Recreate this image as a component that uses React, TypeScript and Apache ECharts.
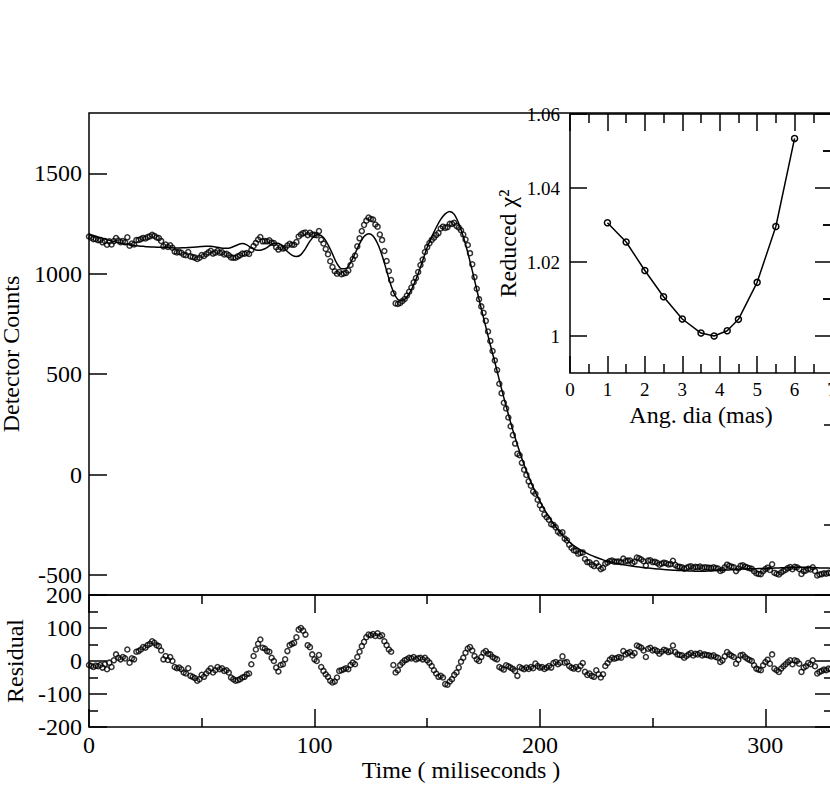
import React, { useEffect, useRef } from "react";
import * as echarts from "echarts";

// Observed detector counts, one sample per millisecond starting at t = 0
const observedCounts = [
  1185, 1179, 1172, 1173, 1167, 1168, 1156, 1163, 1144, 1161,
  1145, 1162, 1177, 1165, 1157, 1162, 1156, 1181, 1139, 1150,
  1145, 1167, 1168, 1172, 1178, 1175, 1182, 1186, 1193, 1188,
  1180, 1177, 1163, 1136, 1145, 1133, 1141, 1129, 1110, 1106,
  1108, 1104, 1094, 1092, 1108, 1086, 1083, 1080, 1073, 1079,
  1093, 1088, 1098, 1106, 1114, 1100, 1105, 1113, 1104, 1106,
  1096, 1099, 1092, 1081, 1079, 1079, 1086, 1092, 1100, 1099,
  1103, 1098, 1118, 1138, 1153, 1170, 1182, 1161, 1162, 1161,
  1166, 1155, 1152, 1132, 1120, 1132, 1125, 1128, 1140, 1149,
  1144, 1144, 1157, 1185, 1195, 1202, 1205, 1192, 1204, 1195,
  1193, 1191, 1212, 1169, 1150, 1123, 1097, 1062, 1033, 1012,
  1000, 1008, 997, 1001, 1004, 1016, 1043, 1073, 1090, 1136,
  1176, 1212, 1243, 1264, 1279, 1272, 1270, 1245, 1234, 1195,
  1168, 1113, 1063, 1013, 968, 902, 852, 849, 854, 864,
  874, 891, 910, 931, 957, 978, 1008, 1043, 1070, 1108,
  1132, 1152, 1168, 1179, 1192, 1202, 1225, 1234, 1228, 1232,
  1248, 1248, 1253, 1238, 1230, 1216, 1195, 1170, 1143, 1102,
  1047, 983, 925, 873, 837, 805, 765, 712, 665, 615,
  568, 520, 452, 405, 357, 329, 284, 240, 196, 154,
  103, 96, 58, 24, -2, -34, -56, -85, -96, -126,
  -153, -172, -199, -213, -225, -248, -251, -263, -285, -294,
  -288, -319, -328, -350, -365, -377, -380, -394, -391, -388,
  -421, -436, -437, -449, -456, -441, -457, -471, -465, -444,
  -438, -431, -428, -434, -434, -433, -437, -419, -431, -429,
  -428, -440, -434, -413, -417, -423, -432, -453, -429, -427,
  -436, -435, -440, -449, -444, -439, -442, -448, -446, -430,
  -450, -458, -460, -462, -469, -465, -460, -457, -464, -460,
  -462, -458, -465, -462, -463, -464, -466, -462, -466, -468,
  -480, -475, -462, -449, -455, -459, -462, -481, -468, -455,
  -452, -459, -463, -467, -469, -482, -492, -495, -496, -481,
  -471, -464, -475, -447, -489, -494, -498, -488, -480, -474,
  -466, -461, -472, -460, -462, -470, -495, -482, -478, -469,
  -473, -462, -480, -503, -498, -496, -492, -494, -489, -492,
];

// Fitted model curve, one value every 2 ms starting at t = 0
const fitCounts = [
  1197, 1190, 1183, 1176, 1169, 1163, 1157, 1152, 1148, 1144,
  1140, 1138, 1136, 1134, 1133, 1132, 1131, 1130, 1129, 1128,
  1128, 1129, 1130, 1131, 1133, 1135, 1136, 1136, 1133, 1129,
  1126, 1127, 1134, 1144, 1150, 1143, 1128, 1118, 1117, 1124,
  1138, 1152, 1152, 1135, 1110, 1092, 1085, 1095, 1125, 1162,
  1188, 1194, 1180, 1145, 1098, 1050, 1025, 1026, 1055, 1100,
  1148, 1185, 1199, 1188, 1150, 1090, 1015, 940, 887, 866,
  872, 900, 945, 1000, 1065, 1130, 1183, 1230, 1270, 1298,
  1310, 1295, 1250, 1185, 1105, 1015, 920, 825, 735, 645,
  560, 470, 383, 300, 220, 148, 80, 18, -38, -88,
  -133, -175, -210, -245, -275, -302, -325, -345, -362, -376,
  -388, -399, -408, -417, -425, -432, -438, -443, -447, -451,
  -455, -458, -461, -464, -466, -468, -470, -472, -474, -476,
  -477, -478, -479, -480, -481, -482, -482, -481, -480, -478,
  -477, -476, -475, -474, -472, -471, -470, -469, -469, -468,
  -468, -467, -466, -465, -464, -463, -462, -462, -462, -462,
  -463, -464, -465, -466, -466, -467,
];

// Residuals (observed - fit), one per millisecond starting at t = 0
const residualCounts = [
  -12, -15, -18, -14, -16, -12, -20, -10, -25, -5,
  -18, 2, 20, 10, 5, 12, 8, 35, -5, 8,
  5, 28, 30, 35, 42, 40, 48, 52, 60, 55,
  48, 45, 32, 5, 15, 3, 12, 0, -18, -22,
  -20, -25, -35, -38, -22, -45, -48, -52, -60, -55,
  -42, -48, -38, -30, -22, -35, -28, -18, -25, -22,
  -30, -28, -35, -50, -55, -60, -58, -55, -50, -48,
  -40, -38, -10, 15, 35, 52, 65, 40, 38, 30,
  28, 10, 0, -20, -32, -12, -10, 5, 30, 48,
  52, 55, 72, 95, 100, 92, 80, 48, 42, 20,
  5, 0, 18, -18, -30, -40, -48, -60, -65, -62,
  -50, -30, -28, -25, -22, -25, -12, -5, -10, 12,
  28, 45, 58, 72, 80, 78, 82, 76, 84, 75,
  78, 60, 48, 35, 28, -12, -35, -28, -12, -5,
  2, 5, 10, 8, 12, 5, 8, 10, 5, 10,
  2, -5, -15, -28, -38, -48, -45, -50, -70, -72,
  -62, -55, -42, -35, -20, -2, 10, 25, 38, 42,
  32, 15, 5, 0, 12, 25, 30, 22, 20, 12,
  8, 5, -18, -22, -26, -13, -16, -20, -24, -30,
  -45, -18, -22, -25, -20, -24, -18, -22, -8, -15,
  -20, -18, -24, -20, -15, -20, -6, -3, -10, -5,
  14, -5, -3, -15, -20, -23, -18, -25, -15, -6,
  -33, -42, -38, -45, -48, -28, -40, -50, -40, -15,
  -6, 4, 10, 7, 9, 12, 10, 30, 20, 24,
  27, 17, 24, 47, 44, 40, 32, 12, 37, 40,
  32, 34, 30, 22, 28, 34, 32, 27, 30, 47,
  27, 20, 18, 17, 10, 15, 20, 24, 17, 22,
  20, 24, 17, 20, 18, 17, 14, 17, 12, 10,
  -3, 2, 14, 27, 20, 16, 12, -8, 4, 17,
  19, 12, 7, 3, 0, -13, -23, -26, -28, -13,
  -3, 4, -8, 20, -23, -28, -33, -23, -16, -10,
  -3, 2, -10, 2, 0, -8, -33, -20, -16, -6,
  -10, 2, -16, -38, -33, -30, -26, -28, -23, -25,
];

// Inset: reduced chi-square vs angular diameter
const angDiaMas = [1, 1.5, 2, 2.5, 3, 3.5, 3.85, 4.2, 4.5, 5, 5.5, 6];
const reducedChi2 = [1.0306, 1.0254, 1.0177, 1.0106, 1.0046, 1.0008, 1.0, 1.0014, 1.0045, 1.0145, 1.0296, 1.0534];

// Tick values
const countTicks = [-500, 0, 500, 1000, 1500];
const countMinorTicks = [-250, 250, 750, 1250, 1750];
const timeTicks = [0, 100, 200, 300];
const chiTicks = [1, 1.02, 1.04, 1.06];
const chiMinorTicks = [1.01, 1.03, 1.05];

const SAMPLE_MS = 1;
const FIT_STEP_MS = 2;

const FONT = "Liberation Serif";

export default function App() {
  const ref = useRef<HTMLDivElement>(null);

  useEffect(() => {
    if (!ref.current) return;
    const chart = echarts.init(ref.current, null, { renderer: "svg" });

    const tickLine = { color: "#000", width: 1.5 };
    const plain = (v: number) => String(v);
    const bigLabel = { color: "#000", fontFamily: FONT, fontSize: 24, formatter: plain };
    const smallLabel = { color: "#000", fontFamily: FONT, fontSize: 19 };
    const nameStyle = { color: "#000", fontFamily: FONT, fontSize: 24 };
    const openCircle = {
      color: "rgba(255,255,255,0)",
      borderColor: "#000",
      borderWidth: 1.5,
    };

    const observedData = observedCounts.map((v, i) => [i * SAMPLE_MS, v]);
    const fitData = fitCounts.map((v, i) => [i * FIT_STEP_MS, v]);
    const residualData = residualCounts.map((v, i) => [i * SAMPLE_MS, v]);
    const chiData = angDiaMas.map((a, i) => [a, reducedChi2[i]]);

    const hidden = { show: false };
    const noLine = { show: false, onZero: false };

    const gridBase = {
      show: true, borderColor: "#000", borderWidth: 1.5,
      containLabel: false, outerBoundsMode: "none",
    };

    const option: any = {
      animation: false,
      backgroundColor: "#fff",
      textStyle: { fontFamily: FONT, color: "#000" },
      grid: [
        { ...gridBase, left: 89, top: 113, width: 744, height: 482, backgroundColor: "transparent" },
        { ...gridBase, left: 89, top: 595, width: 744, height: 132, backgroundColor: "transparent" },
        { ...gridBase, left: 570, top: 114, width: 262, height: 259, backgroundColor: "#fff", z: 5 },
      ],
      xAxis: [
        {
          gridIndex: 0, type: "value", min: 0, max: 330,
          axisLine: noLine, axisTick: hidden, axisLabel: hidden, splitLine: hidden,
        },
        {
          gridIndex: 1, type: "value", min: 0, max: 330, interval: 100,
          axisLine: noLine, splitLine: hidden,
          axisTick: { show: true, inside: true, length: 18, lineStyle: tickLine },
          minorTick: { show: true, splitNumber: 2, length: 9, lineStyle: tickLine },
          axisLabel: { ...bigLabel, margin: 6, customValues: timeTicks },
          name: "Time ( miliseconds )", nameLocation: "middle", nameGap: 31,
          nameTextStyle: nameStyle,
        },
        {
          gridIndex: 1, type: "value", position: "top", min: 0, max: 330, interval: 100,
          axisLine: noLine, splitLine: hidden, axisLabel: hidden,
          axisTick: { show: true, inside: true, length: 18, lineStyle: tickLine },
          minorTick: { show: true, splitNumber: 2, length: 9, lineStyle: tickLine },
        },
        {
          gridIndex: 2, type: "value", min: 0, max: 7, interval: 1, z: 6,
          axisLine: noLine, splitLine: hidden,
          axisTick: { show: true, inside: true, length: 17, lineStyle: tickLine },
          minorTick: { show: true, splitNumber: 2, length: 9, lineStyle: tickLine },
          axisLabel: { ...smallLabel, margin: 7 },
          name: "Ang. dia (mas)", nameLocation: "middle", nameGap: 30,
          nameTextStyle: nameStyle,
        },
        {
          gridIndex: 2, type: "value", position: "top", min: 0, max: 7, interval: 1, z: 6,
          axisLine: noLine, splitLine: hidden, axisLabel: hidden,
          axisTick: { show: true, inside: true, length: 17, lineStyle: tickLine },
          minorTick: { show: true, splitNumber: 2, length: 9, lineStyle: tickLine },
        },
      ],
      yAxis: [
        {
          gridIndex: 0, type: "value", min: -600, max: 1800,
          axisLine: noLine, splitLine: hidden,
          axisTick: { show: true, inside: true, length: 18, lineStyle: tickLine, customValues: countTicks },
          axisLabel: { ...bigLabel, margin: 7, customValues: countTicks },
          name: "Detector Counts", nameLocation: "middle", nameGap: 58, nameRotate: 90,
          nameTextStyle: nameStyle,
        },
        {
          gridIndex: 0, type: "value", min: -600, max: 1800,
          axisLine: noLine, splitLine: hidden, axisLabel: hidden,
          axisTick: { show: true, inside: true, length: 9, lineStyle: tickLine, customValues: countMinorTicks },
        },
        {
          gridIndex: 1, type: "value", min: -200, max: 200, interval: 100,
          axisLine: noLine, splitLine: hidden,
          axisTick: { show: true, inside: true, length: 18, lineStyle: tickLine },
          minorTick: { show: true, splitNumber: 2, length: 9, lineStyle: tickLine },
          axisLabel: { ...bigLabel, margin: 7 },
          name: "Residual", nameLocation: "middle", nameGap: 57, nameRotate: 90,
          nameTextStyle: nameStyle,
        },
        {
          gridIndex: 1, type: "value", position: "right", min: -200, max: 200, interval: 100,
          axisLine: noLine, splitLine: hidden, axisLabel: hidden,
          axisTick: { show: true, inside: true, length: 18, lineStyle: tickLine },
          minorTick: { show: true, splitNumber: 2, length: 9, lineStyle: tickLine },
        },
        {
          gridIndex: 2, type: "value", min: 0.99, max: 1.06, z: 6,
          axisLine: noLine, splitLine: hidden,
          axisTick: { show: true, inside: true, length: 17, lineStyle: tickLine, customValues: chiTicks },
          axisLabel: {
            ...smallLabel, margin: 10, customValues: chiTicks,
            formatter: (v: number) => (Math.abs(v - 1) < 1e-9 ? "1" : v.toFixed(2)),
          },
          name: "Reduced \u03c7\u00b2", nameLocation: "middle", nameGap: 50, nameRotate: 90,
          nameTextStyle: nameStyle,
        },
        {
          gridIndex: 2, type: "value", min: 0.99, max: 1.06, z: 6,
          axisLine: noLine, splitLine: hidden, axisLabel: hidden,
          axisTick: { show: true, inside: true, length: 9, lineStyle: tickLine, customValues: chiMinorTicks },
        },
        {
          gridIndex: 2, type: "value", position: "right", min: 0.99, max: 1.06, z: 6,
          axisLine: noLine, splitLine: hidden, axisLabel: hidden,
          axisTick: { show: true, inside: true, length: 17, lineStyle: tickLine, customValues: chiTicks },
        },
        {
          gridIndex: 2, type: "value", position: "right", min: 0.99, max: 1.06, z: 6,
          axisLine: noLine, splitLine: hidden, axisLabel: hidden,
          axisTick: { show: true, inside: true, length: 9, lineStyle: tickLine, customValues: chiMinorTicks },
        },
      ],
      series: [
        {
          type: "line", xAxisIndex: 0, yAxisIndex: 0, data: fitData,
          showSymbol: false, smooth: 0.3, silent: true,
          lineStyle: { color: "#000", width: 1.5 },
        },
        {
          type: "scatter", xAxisIndex: 0, yAxisIndex: 0, data: observedData,
          symbol: "circle", symbolSize: 5, silent: true, itemStyle: openCircle,
        },
        {
          type: "scatter", xAxisIndex: 1, yAxisIndex: 2, data: residualData,
          symbol: "circle", symbolSize: 5, silent: true, itemStyle: openCircle,
        },
        {
          type: "line", xAxisIndex: 3, yAxisIndex: 4, data: chiData, z: 7,
          symbol: "circle", symbolSize: 6, showSymbol: true, silent: true,
          itemStyle: openCircle, lineStyle: { color: "#000", width: 1.5 },
        },
      ],
    };

    chart.setOption(option);
    return () => chart.dispose();
  }, []);

  return (
    <div
      style={{
        position: "fixed", left: 0, top: 0, width: 830, height: 785,
        overflow: "hidden", background: "#fff",
      }}
    >
      <div ref={ref} style={{ width: 860, height: 785 }} />
    </div>
  );
}
